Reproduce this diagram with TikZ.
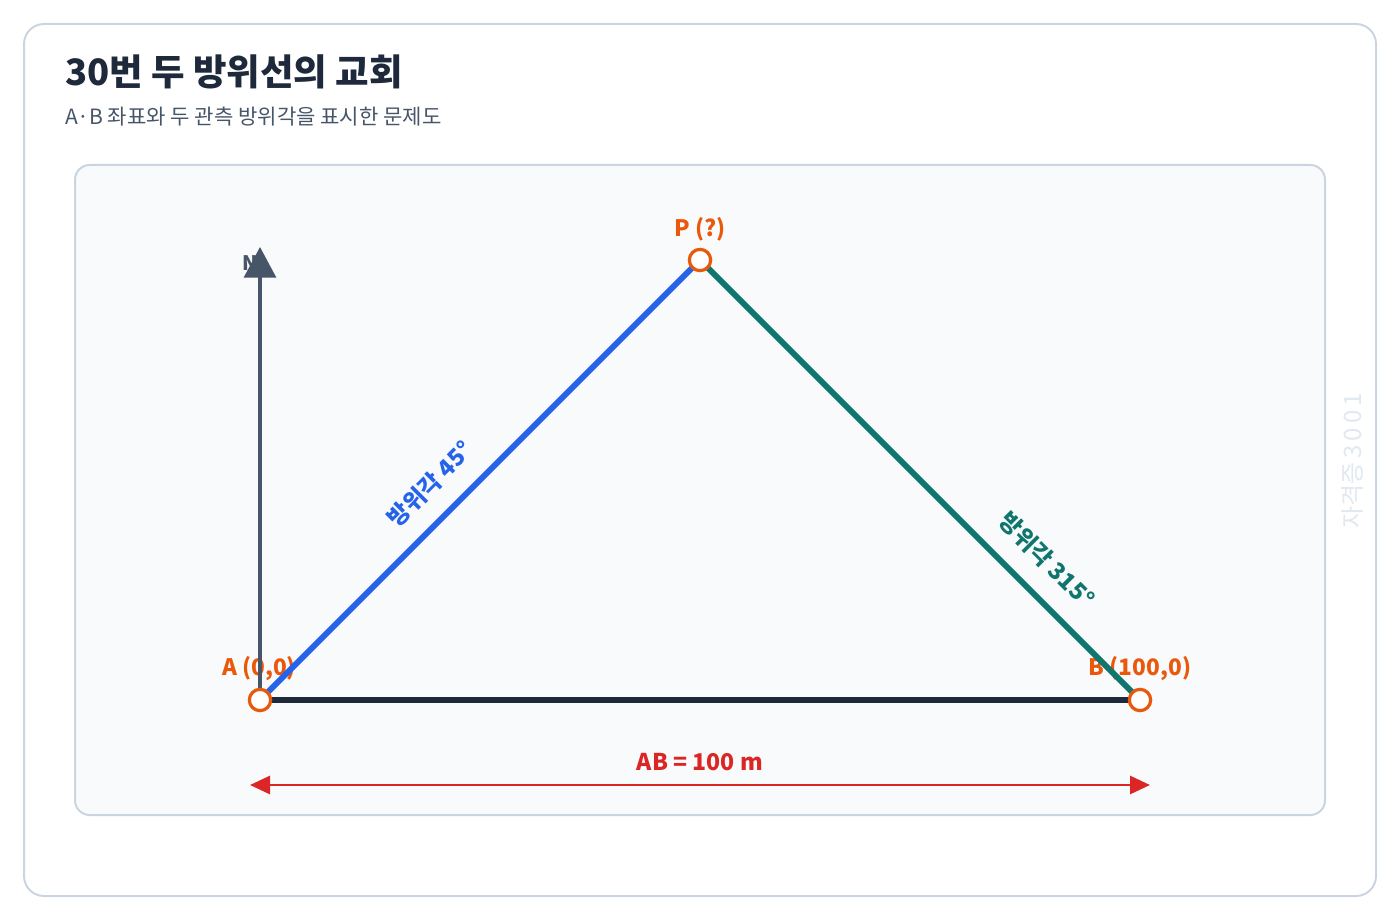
\documentclass[tikz,border=0pt]{standalone}
\usepackage{fontspec}
\setmainfont{Noto Sans CJK KR}
\usetikzlibrary{arrows.meta}
\definecolor{cardline}{HTML}{CBD5E1}
\definecolor{panelfill}{HTML}{F8FAFC}
\definecolor{titlec}{HTML}{1E293B}
\definecolor{subc}{HTML}{475569}
\definecolor{northc}{HTML}{475569}
\definecolor{ptc}{HTML}{EA580C}
\definecolor{bluec}{HTML}{2563EB}
\definecolor{tealc}{HTML}{0F766E}
\definecolor{basec}{HTML}{1E293B}
\definecolor{redc}{HTML}{DC2626}
\definecolor{wmc}{HTML}{E2E8F0}
\tikzset{
  ptlabel/.style={text=ptc,font=\fontsize{17}{19}\selectfont\bfseries,inner sep=0pt},
  pt/.style={circle,draw=ptc,line width=2.4pt,fill=white,minimum size=16pt,inner sep=0pt},
  bearing/.style={font=\fontsize{17.5}{19}\selectfont\bfseries,inner sep=0pt},
}
\begin{document}
\begin{tikzpicture}[x=0.75pt,y=-0.75pt]
\useasboundingbox (0,0) rectangle (1400,920);
% card
\draw[cardline,line width=1.5pt,fill=white,rounded corners=15pt] (24,24) rectangle (1376,896);
\node[anchor=base west,inner sep=0pt,text=titlec,font=\fontsize{27.3}{30}\selectfont\bfseries] (title) at (65,86) {30번 두 방위선의 교회};
\node[anchor=base west,inner sep=0pt,text=subc,font=\fontsize{15.8}{18}\selectfont] (sub) at (65,125) {A·B 좌표와 두 관측 방위각을 표시한 문제도};
% panel
\draw[cardline,line width=1.5pt,fill=panelfill,rounded corners=11pt] (75,165) rectangle (1325,815);
% watermark
\node[rotate=90,text=wmc,font=\fontsize{18}{20}\selectfont,inner sep=0pt] (wm) at (1352,461) {자격증\,3\,0\,0\,1};
% coordinates
\coordinate (A) at (260,700);
\coordinate (B) at (1140,700);
\coordinate (P) at (700,260);
\coordinate (Ntip) at (260,247);
\coordinate (D1) at (250,785);
\coordinate (D2) at (1150,785);
% labels under lines
\node[text=northc,font=\fontsize{15}{17}\selectfont\bfseries,inner sep=0pt] (Nlab) at (250,263) {N};
\node[ptlabel] (Alab) at (259,669) {A (0,0)};
\node[ptlabel] (Blab) at (1140,669) {B (100,0)};
\node[ptlabel] (Plab) at (700,229) {P (?)};
\node[bearing,text=bluec,rotate=45] (b45) at (430,484) {방위각 45°};
\node[bearing,text=tealc,rotate=-45] (b315) at (1047,560) {방위각 315°};
\node[text=redc,font=\fontsize{17.3}{19}\selectfont\bfseries,inner sep=0pt] (dlab) at (700,762) {AB = 100 m};
% lines
\draw[northc,line width=2.3pt,-{Triangle[length=23pt,width=24pt]}] (A) -- (Ntip);
\draw[basec,line width=4.5pt] (A) -- (B);
\draw[bluec,line width=4.5pt] (A) -- (P);
\draw[tealc,line width=4.5pt] (P) -- (B);
\draw[redc,line width=2.2pt,{Triangle[length=15pt,width=13.5pt]}-{Triangle[length=15pt,width=13.5pt]}] (D1) -- (D2);
% points
\node[pt] (Apt) at (A) {};
\node[pt] (Bpt) at (B) {};
\node[pt] (Ppt) at (P) {};
\end{tikzpicture}
\end{document}
